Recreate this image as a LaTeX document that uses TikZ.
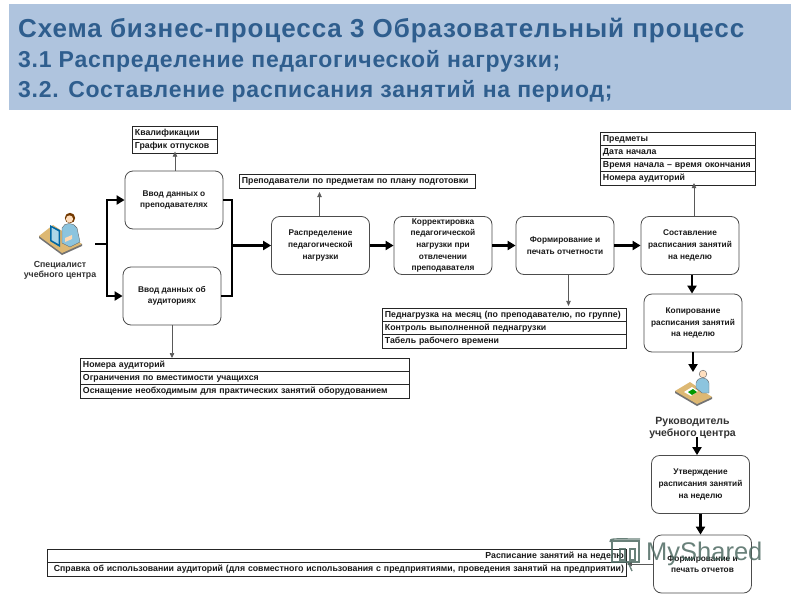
\documentclass[tikz,border=0pt]{standalone}
\usepackage{fontspec}
\setmainfont{Liberation Sans}
\usetikzlibrary{arrows.meta}
\definecolor{band}{HTML}{AFC4DE}
\definecolor{titlec}{HTML}{2F5E8E}
\definecolor{wm}{HTML}{4F6B63}
\definecolor{deskc}{HTML}{DDB873}
\definecolor{bodyc}{HTML}{8CC4DE}
\tikzset{
  proc/.style={draw=black!70,line width=0.8pt,rounded corners=8pt,fill=white,minimum width=98pt,minimum height=58pt,inner sep=1pt,align=center,font=\fontsize{8.3}{11.6}\selectfont\bfseries,text=black!90},
  rowbox/.style={draw=black!85,line width=0.9pt,fill=white,minimum height=13pt,inner sep=2.5pt,font=\fontsize{8.75}{10}\selectfont\bfseries,text=black!90},
  thick arrow/.style={line width=2.8pt,-{Triangle[length=8pt,width=9pt]}},
  thick line/.style={line width=2.8pt},
  thin arrow/.style={line width=0.7pt,black!65,-{Triangle[length=5pt,width=4.5pt]}},
  ttl/.style={anchor=base west,inner sep=0pt,text=titlec,font=\fontsize{26}{28}\selectfont\bfseries\addfontfeatures{LetterSpace=3.5}},
  ttlb/.style={anchor=base west,inner sep=0pt,text=titlec,font=\fontsize{23}{26}\selectfont\bfseries\addfontfeatures{LetterSpace=3.2}},
  actor/.style={align=center,inner sep=0pt,text=black!80,font=\fontsize{8.8}{10.6}\selectfont\bfseries},
}
\newcommand{\trow}[5]{\node[rowbox,text width=#3pt-5pt,minimum width=#3pt,anchor=north west,align=#5,text height=7pt,text depth=2pt] (#1) at #2 {#4};}
\begin{document}
\begin{tikzpicture}[x=1pt,y=-1pt]
\useasboundingbox (0,0) rectangle (800,600);
\fill[white] (0,0) rectangle (800,600);
\fill[band] (9,4) rectangle (791,110);
\node[ttl] (t1) at (18,37) {Схема бизнес-процесса 3 Образовательный процесс};
\node[ttlb] (t2) at (18,67) {3.1 Распределение педагогической нагрузки;};
\node[ttlb] (t3) at (18,97) {3.2. Составление расписания занятий на период;};

% process boxes
\node[proc] (vp) at (174,200) {Ввод данных о\\преподавателях};
\node[proc] (va) at (172,296) {Ввод данных об\\аудиториях};
\node[proc] (rs) at (320.5,245.5) {Распределение\\педагогической\\нагрузки};
\node[proc] (ko) at (443,245.5) {Корректировка\\педагогической\\нагрузки при\\отвлечении\\преподавателя};
\node[proc] (fo) at (565,245.5) {Формирование и\\печать отчетности};
\node[proc] (so) at (690,245.5) {Составление\\расписания занятий\\на неделю};
\node[proc] (kp) at (693,323) {Копирование\\расписания занятий\\на неделю};
\node[proc] (ut) at (700.5,484.5) {Утверждение\\расписания занятий\\на неделю};

% tables
\trow{a1}{(132,126)}{85}{Квалификации}{left}
\trow{a2}{(132,139)}{85}{График отпусков}{left}
\trow{b1}{(239,174)}{236}{Преподаватели по предметам по плану подготовки}{left}
\trow{c1}{(600,132)}{155}{Предметы}{left}
\trow{c2}{(600,145)}{155}{Дата начала}{left}
\trow{c3}{(600,158)}{155}{Время начала – время окончания}{left}
\trow{c4}{(600,171)}{155}{Номера аудиторий}{left}
\trow{d1}{(382,308)}{244}{Педнагрузка на месяц (по преподавателю, по группе)}{left}
\trow{d2}{(382,321)}{244}{Контроль выполненной педнагрузки}{left}
\trow{d3}{(382,334)}{244}{Табель рабочего времени}{left}
\trow{e1}{(80,358)}{329}{Номера аудиторий}{left}
\trow{e2}{(80,371)}{329}{Ограничения по вместимости учащихся}{left}
\trow{e3}{(80,384)}{329}{Оснащение необходимым для практических занятий оборудованием}{left}
\trow{f1}{(47,549)}{579}{Расписание занятий на неделю}{right}
\trow{f2}{(47,562)}{579}{Справка об использовании аудиторий (для совместного использования с предприятиями, проведения занятий на предприятии)}{right}

\node[proc] (f2p) at (702.5,564) {Формирование и\\печать отчетов};

% actors labels
\node[actor] (sp) at (60,270.5) {Специалист\\учебного центра};
\node[actor,font=\fontsize{10.5}{12.5}\selectfont\bfseries] (ru) at (692.5,428) {Руководитель\\учебного центра};

% icon 1: specialist
\coordinate (ic1) at (95,244);
\fill[black!55] (39,236) -- (39,238) -- (62,255) -- (82,246) -- (82,244) -- cycle;
\fill[deskc] (39,236) -- (53,225) -- (82,244) -- (62,253) -- cycle;
\fill[bodyc] (62,228) .. controls (64,222) and (74,222) .. (77,228) -- (80,242) -- (70,247) -- (62,243) -- cycle;
\draw[black!60,line width=0.4pt] (62,228) .. controls (64,222) and (74,222) .. (77,228) -- (80,242) -- (70,247) -- (62,243) -- cycle;
\fill[orange!30!white] (65,238) -- (72,235) -- (72,239) -- (65,242) -- cycle;
\fill[black!60!blue!60!cyan] (50,225) -- (60,230) -- (60,247) -- (50,241) -- cycle;
\fill[bodyc!70!white] (51.5,227.5) -- (58.5,231.5) -- (58.5,244) -- (51.5,240) -- cycle;
\fill[black!55!orange] (70,218) circle (5.2);
\fill[orange!25!white] (69.5,219) circle (3.6);

% icon 2: manager
\fill[black!55] (675,391) -- (675,393) -- (697,406) -- (712,399) -- (712,397) -- cycle;
\fill[deskc] (675,391) -- (690,382) -- (712,397) -- (697,404) -- cycle;
\fill[bodyc] (696,383) .. controls (698,376) and (707,376) .. (709,383) -- (709,393) -- (702,393) -- (696,388) -- cycle;
\draw[black!60,line width=0.4pt] (696,383) .. controls (698,376) and (707,376) .. (709,383) -- (709,393) -- (702,393) -- (696,388) -- cycle;
\fill[white] (684,392) -- (692,387) -- (698,391) -- (691,396) -- cycle;
\fill[green!60!black] (688,392) -- (693,389) -- (697,392) -- (692,395) -- cycle;
\fill[orange!25!white] (703,374) circle (3.8);
\draw[black!55,line width=0.5pt] (703,374) circle (3.8);

% thick connectors
\coordinate (lj) at (107,244);
\coordinate (rj) at (232,245.5);
\draw[thick line] (ic1) -- (lj);
\draw[thick arrow] (lj) |- (vp.west);
\draw[thick arrow] (lj) |- (va.west);
\draw[thick line] (vp.east) -| (rj);
\draw[thick line] (va.east) -| (rj);
\draw[thick arrow] (rj) -- (rs.west);
\draw[thick arrow] (rs.east) -- (ko.west);
\draw[thick arrow] (ko.east) -- (fo.west);
\draw[thick arrow] (fo.east) -- (so.west);
\coordinate (skc) at (692,275);
\draw[thick arrow] (skc) -- (skc |- kp.north);
\coordinate (ic2) at (693,372);
\draw[thick arrow] (kp.south) -- (ic2);
\coordinate (ruo) at (697,437);
\draw[thick arrow] (ruo) -- (ruo |- ut.north);
\draw[thick arrow] (ut.south) -- (ut.south |- f2p.north);

% thin connectors
\draw[thin arrow] (vp.north) ++(1,0) -- ++(0,-19);
\draw[thin arrow] (rs.north) ++(-1,0) -- ++(0,-24);
\draw[thin arrow] (so.north) ++(4,0) -- ++(0,-33);
\draw[thin arrow] (fo.south) ++(3.5,0) -- ++(0,31);
\draw[thin arrow] (va.south) -- (va.south |- e1.north);
\draw[thin arrow] (f2p.west) -- (f2p.west -| f2.east);

% watermark
\node[anchor=west,inner sep=0pt,text=wm,opacity=.85,font=\fontsize{25.5}{28}\selectfont] (ms) at (646,554) {MyShared};
\begin{scope}[wm,opacity=.85,line width=1.4pt]
\draw (612,541) rectangle (639,562);
\draw (610,542) .. controls (610,538) and (612,539) .. (640,539);
\draw (620,549) rectangle (625,560);
\draw (630,549) rectangle (635,560);
\draw (628,562) -- (632,571);
\end{scope}
\end{tikzpicture}
\end{document}
